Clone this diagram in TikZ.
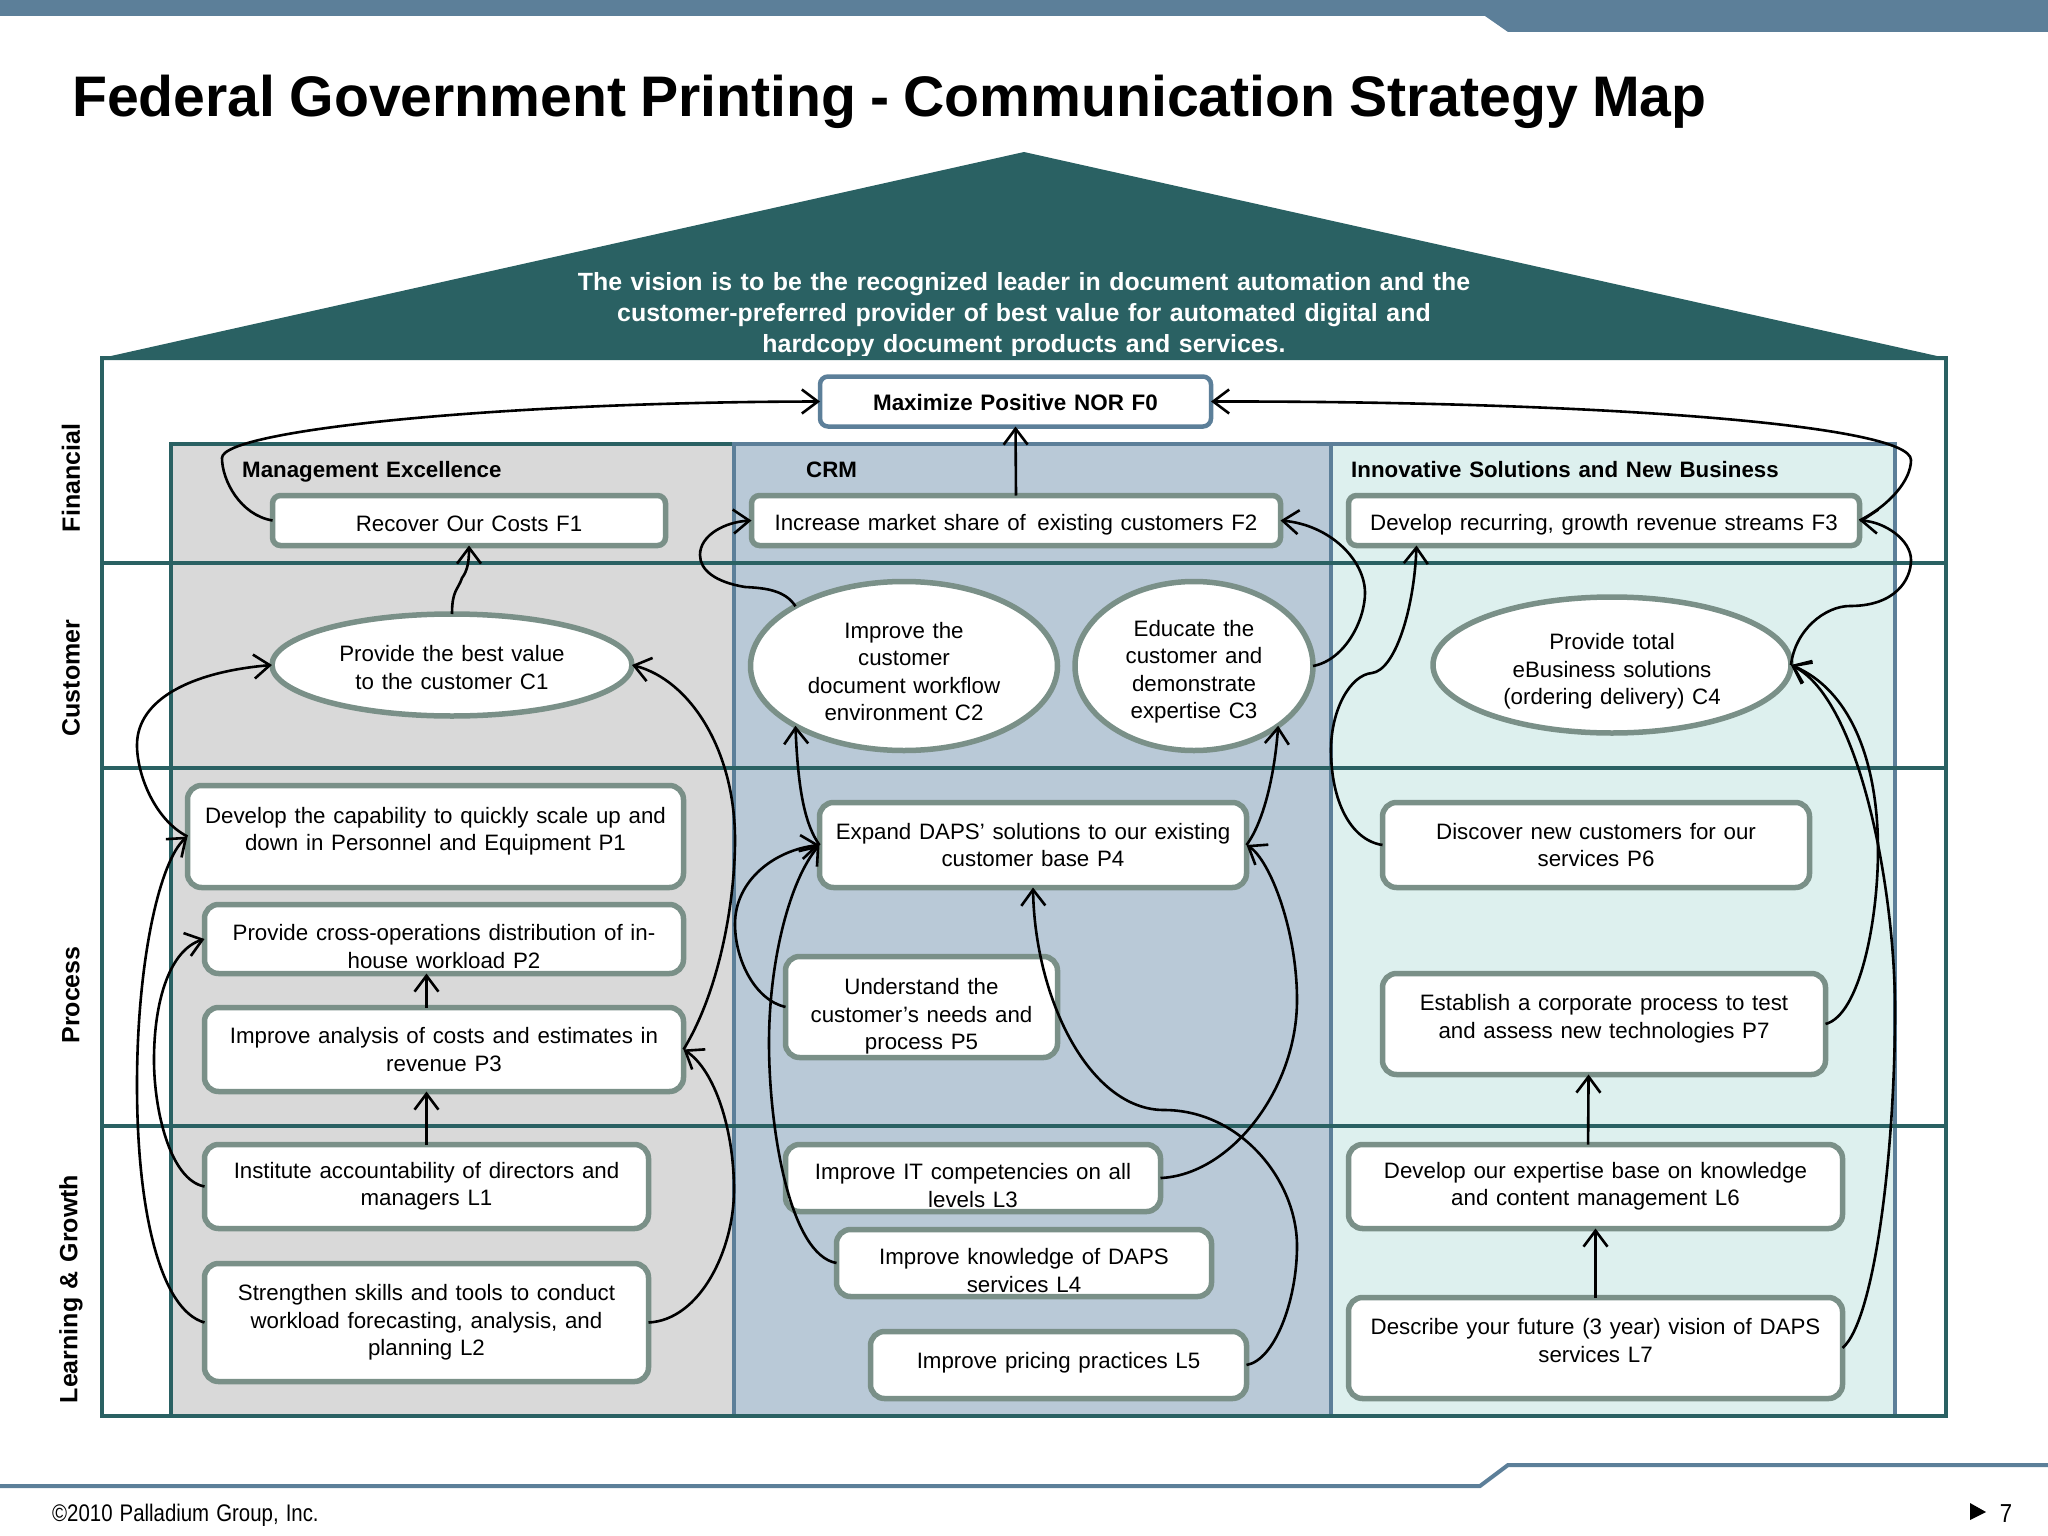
\documentclass[tikz,border=0pt]{standalone}
\usepackage{fontspec}
\setmainfont[WordSpace=1.25]{Liberation Sans}
\newfontfamily\footfont[FakeStretch=0.85,WordSpace=1.25]{Liberation Sans}
\newfontfamily\titlefont[WordSpace=0.875]{Liberation Sans}
\usetikzlibrary{shapes,arrows.meta}
\definecolor{steel}{HTML}{5C7F99}
\definecolor{roofteal}{HTML}{2A6163}
\definecolor{boxline}{HTML}{7A9088}
\definecolor{mgmtfill}{HTML}{D9D9D9}
\definecolor{crmfill}{HTML}{B9C9D7}
\definecolor{innofill}{HTML}{DDF0EE}
\newcommand{\textlift}[1]{\rule[-#1pt]{0pt}{#1pt}}
\newcommand{\textdrop}[1]{\rule{0pt}{#1pt}}

\begin{document}
\begin{tikzpicture}[x=1pt, y=-1pt, >={Straight Barb[length=16pt,width=24pt]},
  boxtext/.style={font=\fontsize{22.3}{27.4}\selectfont, align=center, inner sep=0pt, outer sep=0pt},
  box/.style={boxtext, draw=boxline, line width=5.5pt, fill=white, rounded corners=14pt},
  finbox/.style={box, rounded corners=8pt},
  oval/.style={boxtext, ellipse, draw=boxline, line width=5.5pt, fill=white},
  sz/.style 2 args={minimum width=#1pt+4pt, minimum height=#2pt+4pt},
  head/.style={font=\fontsize{22.3}{27}\selectfont\bfseries, anchor=base west, inner sep=0pt},
  rowlabel/.style={font=\fontsize{25}{27}\selectfont\bfseries, rotate=90, inner sep=0pt},
  link/.style={->, line width=2.6pt},
  rowline/.style={draw=roofteal, line width=4.5pt}]
\useasboundingbox (0,0) rectangle (2048,1536);

\fill[steel] (0,0) -- (2048,0) -- (2048,32) -- (1508,32) -- (1485,16) -- (0,16) -- cycle;
\draw[steel, line width=4pt] (0,1486) -- (1480,1486) -- (1508,1465) -- (2048,1465);
\node[font=\fontsize{57.2}{60}\selectfont\titlefont\bfseries, anchor=west, inner sep=0pt] (title) at (72,102) {Federal Government Printing - Communication Strategy Map};
\node[font=\fontsize{24}{27}\selectfont\footfont, anchor=west, inner sep=0pt] (copy) at (52,1515) {©2010 Palladium Group, Inc.};
\fill (1970,1503) -- (1986,1512) -- (1970,1520) -- cycle;
\node[font=\fontsize{26}{27}\selectfont\footfont, inner sep=0pt] (page) at (2006,1514) {7};

\fill[roofteal] (102,358) -- (1024,152) -- (1946,358) -- (1946,360) -- (102,360) -- cycle;
\node[font=\fontsize{24.9}{31}\selectfont\bfseries, text=white, align=center, inner sep=0pt] (vision) at (1024,315.5) {The vision is to be the recognized leader in document automation and the\\customer-preferred provider of best value for automated digital and\\hardcopy document products and services.};

\fill[mgmtfill] (171,444) rectangle (734,1416);
\fill[crmfill] (734,444) rectangle (1331,1416);
\fill[innofill] (1331,444) rectangle (1895,1416);
\draw[rowline] (171,1416) -- (171,444) -- (734,444);
\draw[steel, line width=4.5pt] (734,1416) -- (734,444) -- (1895,444) -- (1895,1416);
\draw[steel, line width=4.5pt] (1331,444) -- (1331,1416);
\draw[rowline] (102,563) -- (1946,563);
\draw[rowline] (102,768) -- (1946,768);
\draw[rowline] (102,1126) -- (1946,1126);
\draw[rowline] (102,358) rectangle (1946,1416);

\node[rowlabel] (fin) at (71,478) {Financial};
\node[rowlabel] (cus) at (71,678) {Customer};
\node[rowlabel] (pro) at (71,995) {Process};
\node[rowlabel] (lea) at (71,1289) {Learning \& Growth};
\node[head] (mgmt) at (242,477) {Management Excellence};
\node[head] (crm) at (806,477) {CRM};
\node[head] (inno) at (1351,477) {Innovative Solutions and New Business};

\node[finbox, draw=steel, line width=4.5pt, font=\fontsize{22.4}{27}\selectfont\bfseries, sz={387}{46}] (f0) at (1015.5,401.5) {\textdrop{19}Maximize Positive NOR F0};
\node[finbox, sz={389}{46}] (f1) at (469,520.5) {\textdrop{22}Recover Our Costs F1};
\node[finbox, sz={525}{46}] (f2) at (1016,520.5) {\textdrop{24}Increase market share of\, existing customers F2};
\node[finbox, sz={507}{46}] (f3) at (1604,520.5) {\textdrop{24}Develop recurring, growth revenue streams F3};

\node[oval, sz={356}{98}] (c1) at (452,665) {\textdrop{21}Provide the best value\\to the customer C1};
\node[oval, sz={303}{165}] (c2) at (904,666) {\textdrop{27}Improve the\\customer\\document workflow\\environment C2};
\node[oval, sz={234}{165}] (c3) at (1194,666) {\textdrop{28}Educate the\\customer and\\demonstrate\\expertise C3};
\node[oval, sz={354}{132}] (c4) at (1612,665) {\textdrop{29}Provide total\\eBusiness solutions\\(ordering delivery) C4};

\node[box, sz={492}{98}] (p1) at (435.5,836.5) {Develop the capability to quickly scale up and\\down in Personnel and Equipment P1\textlift{15}};
\node[box, sz={475}{65}] (p2) at (444,939) {\textdrop{31}Provide cross-operations distribution of in-\\house workload P2};
\node[box, sz={475}{80}] (p3) at (444,1049.5) {Improve analysis of costs and estimates in\\revenue P3};
\node[box, sz={423}{81}] (p4) at (1033,845) {Expand DAPS' solutions to our existing\\customer base P4};
\node[box, sz={268}{97}] (p5) at (921.5,1007) {\textdrop{35}Understand the\\customer's needs and\\process P5};
\node[box, sz={423}{81}] (p6) at (1596,845) {Discover new customers for our\\services P6};
\node[box, sz={439}{97}] (p7) at (1604,1024) {Establish a corporate process to test\\and assess new technologies P7\textlift{15}};

\node[box, sz={440}{80}] (l1) at (426.5,1186.5) {Institute accountability of directors and\\managers L1};
\node[box, sz={440}{114}] (l2) at (426.5,1322.5) {Strengthen skills and tools to conduct\\workload forecasting, analysis, and\\planning L2};
\node[box, sz={371}{63}] (l3) at (973,1178) {\textdrop{31}Improve IT competencies on all\\levels L3};
\node[box, sz={371}{63}] (l4) at (1024,1263) {\textdrop{31}Improve knowledge of DAPS\\services L4};
\node[box, sz={372}{63}] (l5) at (1058.5,1365) {Improve pricing practices L5\textlift{10}};
\node[box, sz={490}{80}] (l6) at (1595.5,1186.5) {Develop our expertise base on knowledge\\and content management L6};
\node[box, sz={490}{97}] (l7) at (1595.5,1348) {Describe your future (3 year) vision of DAPS\\services L7\textlift{15}};

\draw[link] (f1.west) .. controls (240,515) and (222,480) .. (222,458) .. controls (222,430) and (500,402) .. (f0.west);
\draw[link] (f3.east) .. controls (1890,505) and (1911,480) .. (1911,460) .. controls (1911,425) and (1600,401) .. (f0.east);
\draw[link] (f2.north) -- (f0.south);
\draw[link] (c1.north) .. controls (452,590) and (458,590) .. (462,578) .. controls (468,570) and (469,560) .. (f1.south);
\draw[link] (c2.north west) .. controls (785,590) and (765,588) .. (745,587) .. controls (715,582) and (700,570) .. (700,555) .. controls (700,535) and (725,522) .. (f2.west);
\draw[link] (c3.east) .. controls (1345,660) and (1365,620) .. (1365,593) .. controls (1365,560) and (1330,525) .. (f2.east);
\draw[link] (c4.east) .. controls (1795,630) and (1825,606) .. (1850,606) .. controls (1895,606) and (1911,580) .. (1911,560) .. controls (1911,540) and (1885,522) .. (f3.east);
\draw[link] (p1.west) .. controls (155,820) and (137,775) .. (137,745) .. controls (137,700) and (190,672) .. (c1.west);
\draw[link] (l2.west) .. controls (160,1310) and (137,1210) .. (137,1085) .. controls (137,960) and (160,860) .. (p1.west);
\draw[link] (l1.west) .. controls (170,1180) and (154,1110) .. (154,1060) .. controls (154,1000) and (170,950) .. (p2.west);
\draw[link] (l1.north |- p3.north) -- (l1.north |- p2.south);
\draw[link] (l1.north) -- (l1.north |- p3.south);
\draw[link] (p3.east) .. controls (720,990) and (735,900) .. (735,840) .. controls (735,750) and (690,680) .. (c1.east);
\draw[link] (l2.east) .. controls (700,1320) and (734,1250) .. (734,1190) .. controls (734,1130) and (715,1070) .. (p3.east);
\draw[link] (p4.west) .. controls (805,825) and (798,790) .. (c2.south west);
\draw[link] (p4.east) .. controls (1265,820) and (1275,770) .. (c3.south east);
\draw[link] (p5.west) .. controls (755,1000) and (735,960) .. (735,924) .. controls (735,880) and (775,850) .. (p4.west);
\draw[link] (l4.west) .. controls (790,1255) and (769,1130) .. (769,1043) .. controls (769,960) and (790,880) .. (p4.west);
\draw[link] (l3.east) .. controls (1230,1175) and (1297,1090) .. (1297,1000) .. controls (1297,930) and (1270,860) .. (p4.east);
\draw[link] (l5.east) .. controls (1275,1360) and (1297,1300) .. (1297,1246) .. controls (1297,1180) and (1240,1110) .. (1164,1110) .. controls (1090,1110) and (1035,1000) .. (p4.south);
\draw[link] (p6.west) .. controls (1350,840) and (1331,800) .. (1331,750) .. controls (1331,710) and (1350,675) .. (1372,673) .. controls (1395,670) and (1414,610) .. ([xshift=68pt]f3.south west);
\draw[link] (l6.100) -- (p7.253);
\draw[link] (l7.north) -- (l6.south);
\draw[link] (l7.east) .. controls (1875,1320) and (1895,1150) .. (1895,1010) .. controls (1895,890) and (1860,700) .. (c4.east);
\draw[link] (p7.east) .. controls (1860,1015) and (1878,920) .. (1878,850) .. controls (1878,760) and (1850,690) .. (c4.east);
\end{tikzpicture}
\end{document}
